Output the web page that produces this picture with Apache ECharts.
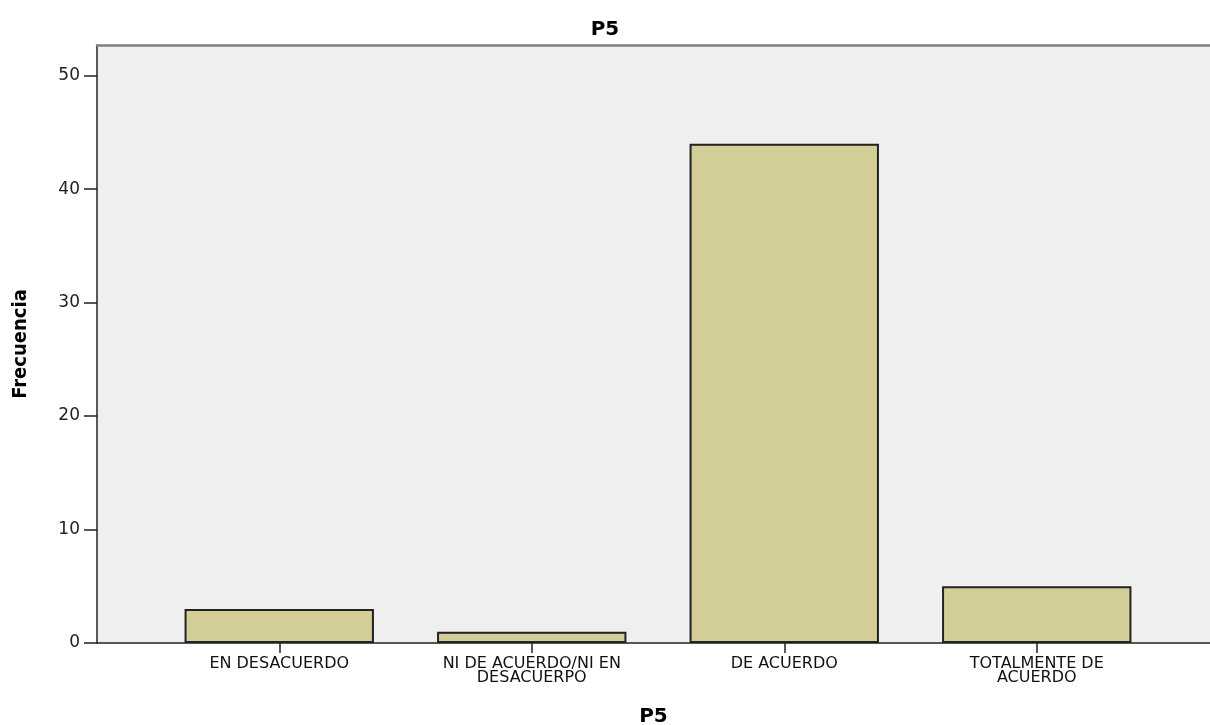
<!DOCTYPE html>
<html>
<head>
<meta charset="utf-8">
<script src="https://cdn.jsdelivr.net/npm/echarts@6/dist/echarts.min.js"></script>
<style>html,body{margin:0;padding:0;background:#fff;}#c{width:1210px;height:725px;}</style>
</head>
<body>
<div id="c"></div>
<script>
var categories = ['EN DESACUERDO', 'NI DE ACUERDO/NI EN\nDESACUERPO', 'DE ACUERDO', 'TOTALMENTE DE\nACUERDO'];
var frecuencia = [3, 1, 44, 5];
var yTicks = [0, 10, 20, 30, 40, 50];
var yMax = 52.7;

var chart = echarts.init(document.getElementById('c'));
chart.setOption({
  animation: false,
  backgroundColor: '#ffffff',
  title: {
    text: 'P5', left: 'center', top: 15,
    textStyle: {fontFamily: 'DejaVu Sans', fontSize: 20, fontWeight: 'bold', color: '#000'}
  },
  grid: [
    {left: 97, right: 0, top: 45, bottom: 82, show: true, backgroundColor: '#efefef', borderWidth: 0, outerBoundsMode: 'none', containLabel: false},
    {left: 153, right: 47, top: 45, bottom: 82, outerBoundsMode: 'none', containLabel: false}
  ],
  xAxis: [
    {
      gridIndex: 0, type: 'value', min: 0, max: 1, position: 'bottom',
      name: 'P5', nameLocation: 'middle', nameGap: 64,
      nameTextStyle: {fontFamily: 'DejaVu Sans', fontSize: 20, fontWeight: 'bold', color: '#000'},
      axisLine: {show: true, lineStyle: {color: '#222', width: 1.5}},
      axisTick: {show: false}, axisLabel: {show: false}, splitLine: {show: false}
    },
    {
      gridIndex: 0, type: 'value', min: 0, max: 1, position: 'top',
      axisLine: {show: true, onZero: false, lineStyle: {color: '#808080', width: 2.5}},
      axisTick: {show: false}, axisLabel: {show: false}, splitLine: {show: false}
    },
    {
      gridIndex: 1, type: 'category', data: categories,
      axisLine: {show: false},
      axisTick: {show: true, alignWithLabel: true, length: 10, lineStyle: {color: '#222', width: 1.5}},
      axisLabel: {interval: 0, margin: 14, fontFamily: 'DejaVu Sans', fontSize: 16, lineHeight: 14, color: '#111'},
      splitLine: {show: false}
    }
  ],
  yAxis: [
    {
      gridIndex: 0, type: 'value', min: 0, max: yMax, interval: 10,
      name: 'Frecuencia', nameLocation: 'middle', nameGap: 66, nameRotate: 90,
      nameTextStyle: {fontFamily: "'DejaVu Sans Condensed', 'Liberation Sans'", fontSize: 20, fontWeight: 'bold', color: '#000'},
      axisLine: {show: true, lineStyle: {color: '#222', width: 1.5}},
      axisTick: {show: true, length: 13, customValues: yTicks, lineStyle: {color: '#222', width: 1.5}},
      axisLabel: {
        margin: 17, fontFamily: 'DejaVu Sans', fontSize: 17, color: '#222',
        customValues: yTicks
      },
      splitLine: {show: false}
    },
    {
      gridIndex: 1, type: 'value', min: 0, max: yMax, interval: 10, show: false,
      splitLine: {show: false}
    }
  ],
  series: [{
    type: 'bar', xAxisIndex: 2, yAxisIndex: 1, data: frecuencia,
    barCategoryGap: '25%',
    itemStyle: {color: '#d3ce97', borderColor: '#222', borderWidth: 2}
  }]
});
</script>
</body>
</html>
